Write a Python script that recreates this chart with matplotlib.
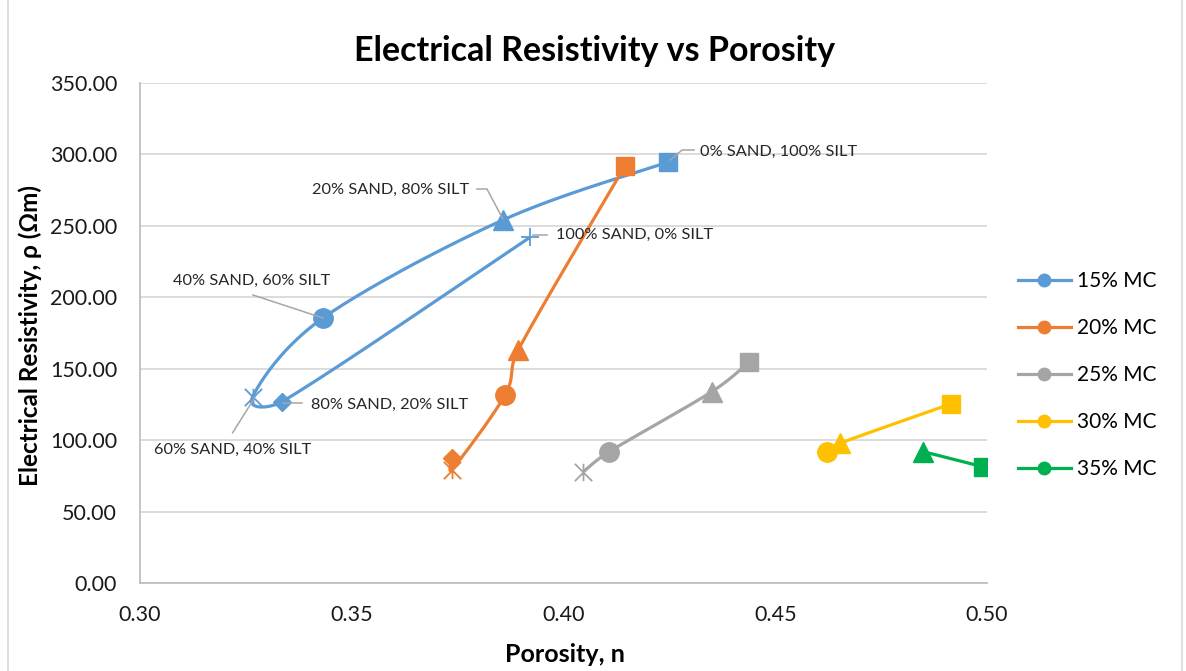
import numpy as np
import matplotlib
matplotlib.use("Agg")
import matplotlib.pyplot as plt
from matplotlib.path import Path
from matplotlib.patches import Rectangle

plt.rcParams['font.family'] = ['Lato', 'DejaVu Sans']

# data (porosity n, resistivity in ohm-m)
mc_labels = ["15% MC", "20% MC", "25% MC", "30% MC", "35% MC"]
colors = ["#5B9BD5", "#ED7D31", "#A5A5A5", "#FFC000", "#00B050"]

n_15 = [0.4247, 0.3857, 0.3432, 0.3266, 0.3335, 0.3921]
rho_15 = [294.7, 254.1, 185.5, 130.4, 126.9, 242.0]
n_20 = [0.4145, 0.3893, 0.3862, 0.3736, 0.3736]
rho_20 = [291.9, 163.1, 131.6, 79.1, 87.3]
n_25 = [0.4439, 0.4350, 0.4108, 0.4047]
rho_25 = [154.9, 133.9, 91.9, 77.9]
n_30 = [0.4914, 0.4653, 0.4623]
rho_30 = [125.3, 97.8, 91.9]
n_35 = [0.4990, 0.4850]
rho_35 = [81.4, 91.9]

# marker per soil mix: 0/100, 20/80, 40/60, 60/40, 80/20, 100/0 sand/silt
mix_labels = ["0% SAND, 100% SILT", "20% SAND, 80% SILT", "40% SAND, 60% SILT",
              "60% SAND, 40% SILT", "80% SAND, 20% SILT", "100% SAND, 0% SILT"]

series = [(n_15, rho_15), (n_20, rho_20), (n_25, rho_25), (n_30, rho_30), (n_35, rho_35)]

star = Path([(-1, -1), (1, 1), (-1, 1), (1, -1), (0, -1), (0, 1)],
            [Path.MOVETO, Path.LINETO, Path.MOVETO, Path.LINETO, Path.MOVETO, Path.LINETO])
markers = [('s', 13.5, True), ('^', 14, True), ('o', 14, True),
           (star, 12.5, False), ('D', 9.5, True), ('+', 13, False)]

W, H = 1186, 671
fig = plt.figure(figsize=(W / 100, H / 100), dpi=100)
ax = fig.add_axes([140 / W, 1 - 583 / H, (987 - 140) / W, (583 - 83) / H])
ax.set_xlim(0.30, 0.50)
ax.set_ylim(0, 350)

# chart area border
fig.patches.append(Rectangle((8 / W, -0.05), (1182 - 8) / W, 1.2, transform=fig.transFigure,
                             fill=False, edgecolor="#d9d9d9", lw=1.2))


def smooth(xs, ys, steps=40):
    # excel style smoothed line, built in pixel space
    pts = ax.transData.transform(np.column_stack([xs, ys]))
    if len(pts) < 3:
        return xs, ys
    p = np.vstack([pts[0], pts, pts[-1]])
    out = []
    t = np.linspace(0, 1, steps)[:, None]
    for i in range(1, len(p) - 2):
        p0, p1, p2, p3 = p[i - 1], p[i], p[i + 1], p[i + 2]
        seg_len = np.hypot(*(p2 - p1))
        d1 = (p2 - p0) / 6
        d2 = (p3 - p1) / 6
        # keep the handles shorter than half the segment
        for d in (d1, d2):
            n = np.hypot(*d)
            if n > 0.5 * seg_len:
                d *= 0.5 * seg_len / n
        b1 = p1 + d1
        b2 = p2 - d2
        seg = ((1 - t) ** 3) * p1 + 3 * ((1 - t) ** 2) * t * b1 + 3 * (1 - t) * t ** 2 * b2 + t ** 3 * p2
        out.append(seg)
    curve = ax.transData.inverted().transform(np.vstack(out))
    return curve[:, 0], curve[:, 1]


for (xs, ys), c, lab in zip(series, colors, mc_labels):
    cx, cy = smooth(xs, ys)
    ax.plot(cx, cy, color=c, lw=2.3, solid_capstyle='round', zorder=3)
    for k, (x, y) in enumerate(zip(xs, ys)):
        m, ms, filled = markers[k]
        if filled:
            ax.plot(x, y, marker=m, ms=ms, color=c, mec=c, ls='none', zorder=4)
        else:
            ax.plot(x, y, marker=m, ms=ms, color=c, mew=1.3, ls='none', zorder=4)
    ax.plot([], [], color=c, lw=2.3, marker='o', ms=9, label=lab)

# data labels for the 15% MC series, leader offsets in pixels (y down)
label_layout = [
    ([(2, -2), (14, -12), (26, -12)], (32, -10), 'left'),
    ([(0, -1), (-16, -31), (-26, -31)], (-34, -30), 'right'),
    ([(0, 0), (-70, -23)], (-71, -37), 'center'),
    ([(2, 1), (-20, 36)], (-20, 53), 'center'),
    ([(1, 1), (20, 1)], (29, 3), 'left'),
    ([(3, -2), (17, -2)], (26, -2), 'left'),
]
for x, y, text, (lead, toff, ha) in zip(n_15, rho_15, mix_labels, label_layout):
    base = ax.transData.transform((x, y))
    lp = base + np.array(lead) * [1, -1]
    lp = ax.transData.inverted().transform(lp)
    ax.plot(lp[:, 0], lp[:, 1], color="#a6a6a6", lw=1.1, zorder=5)
    tp = ax.transData.inverted().transform(base + np.array(toff) * [1, -1])
    ax.text(tp[0], tp[1], text, ha=ha, va='center', fontsize=11.8, color="#262626", zorder=6)

ax.set_xticks(np.arange(0.30, 0.501, 0.05))
ax.set_yticks(np.arange(0, 351, 50))
ax.set_xticklabels([f"{v:.2f}" for v in np.arange(0.30, 0.501, 0.05)])
ax.set_yticklabels([f"{v:.2f}" for v in np.arange(0, 351, 50)])
ax.tick_params(length=0, labelsize=15.5, labelcolor="#1a1a1a")
ax.tick_params(axis='y', pad=16.5)
ax.tick_params(axis='x', pad=15.5)
ax.grid(axis='y', color="#d9d9d9", lw=1.3)
ax.set_axisbelow(True)
for s in ['top', 'right']:
    ax.spines[s].set_visible(False)
for s in ['left', 'bottom']:
    ax.spines[s].set_color("#bfbfbf")
    ax.spines[s].set_linewidth(1.3)

fig.text(595 / W, 1 - 51 / H, "Electrical Resistivity vs Porosity", ha='center', va='center',
         fontsize=24.5, fontweight='bold')
fig.text(565 / W, 1 - 654 / H, "Porosity, n", ha='center', va='center', fontsize=18, fontweight='bold')
fig.text(30 / W, 1 - 335 / H, "Electrical Resistivity, ρ (Ωm)", ha='center', va='center',
         rotation=90, fontsize=17.5, fontweight='bold')

fig.legend(loc='center left', bbox_to_anchor=(999 / W, 1 - 375 / H), frameon=False,
           fontsize=15, handlelength=2.55, handletextpad=0.3, labelspacing=1.3)

fig.savefig("out.png", dpi=100)
